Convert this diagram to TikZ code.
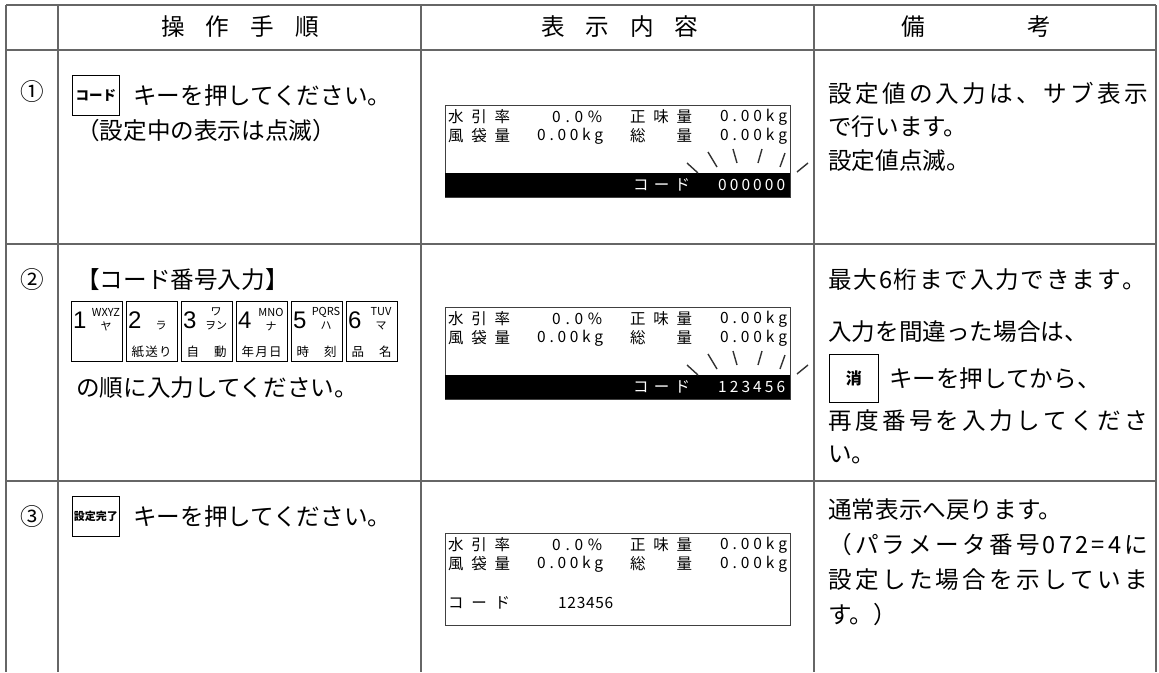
\documentclass[tikz,border=0pt]{standalone}
\usepackage{fontspec}
\setmainfont{Noto Sans CJK JP}
\newfontfamily\keyfont{Liberation Sans}
\usetikzlibrary{positioning}

\newcommand\bodysize{\fontsize{23.6}{30}\selectfont}
\newcommand\lcdsize{\fontsize{15.5}{18}\selectfont}
% spread the characters of #2 over a box of width #1
\def\spreadend{}
\newcommand\spreadbox[2]{\hbox to #1{\edef\spreadtmp{#2}\expandafter\spreadnext\spreadtmp\spreadend}}
\def\spreadnext#1{\ifx#1\spreadend\unskip\else#1\hfil\expandafter\spreadnext\fi}

\tikzset{
  grid/.style={draw=black!60, line width=1.6pt},
  body/.style={anchor=west, inner sep=0pt, font=\bodysize},
  head/.style={inner sep=0pt, font=\bodysize},
  lcdtext/.style={anchor=west, inner sep=0pt, font=\lcdsize},
  lcdline/.style={draw=black!75, line width=1pt},
  ray/.style={draw=black!80, line width=1.4pt},
  keybox/.style={draw, line width=0.8pt, inner sep=0pt}
}

% display panel, #1 = top, #2 = name
\newcommand\lcdpanel[2]{
  \begin{scope}[shift={(0,#1)}]
    \draw[lcdline] (445,0) rectangle (790,92);
    \node[lcdtext] (#2a) at (448,12) {\spreadbox{62pt}{水引率}};
    \node[lcdtext] (#2b) at (552,12) {\spreadbox{50pt}{0.0\%}};
    \node[lcdtext] (#2c) at (630,12) {\spreadbox{62pt}{正味量}};
    \node[lcdtext] (#2d) at (720,12) {\spreadbox{67pt}{0.00kg}};
    \node[lcdtext] (#2e) at (448,31) {\spreadbox{62pt}{風袋量}};
    \node[lcdtext] (#2f) at (537,31) {\spreadbox{66pt}{0.00kg}};
    \node[lcdtext] (#2g) at (630,31) {\spreadbox{62pt}{総量}};
    \node[lcdtext] (#2h) at (720,31) {\spreadbox{67pt}{0.00kg}};
  \end{scope}
}
% blinking sub display, #1 = top, #2 = name, #3 = number
\newcommand\lcdblink[3]{
  \begin{scope}[shift={(0,#1)}]
    \fill (445,68) rectangle (790,92);
    \node[lcdtext, text=white] (#2i) at (633,80) {\spreadbox{57pt}{コード}};
    \node[lcdtext, text=white] (#2j) at (718,80) {\spreadbox{67pt}{#3}};
    \draw[ray] (687,58) -- (698,68) (708,47) -- (717,62) (733,44) -- (737,58)
               (762,44) -- (758,58) (785,48) -- (780,62) (797,67) -- (808,58);
  \end{scope}
}

\begin{document}
\begin{tikzpicture}[x=1pt, y=-1pt]
  \useasboundingbox (0,0) rectangle (1159,672);

  % table
  \foreach \y in {5,50,244,481}
    \draw[grid] (6,\y) -- (1156,\y);
  \foreach \x in {6,58,421,814,1156}
    \draw[grid] (\x,5) -- (\x,672);

  % header
  \node[head] (hstep) at (240,27) {\spreadbox{158pt}{操作手順}};
  \node[head] (hdisp) at (620,27) {\spreadbox{157pt}{表示内容}};
  \node[head] (hnote) at (976,27) {\spreadbox{150pt}{備考}};

  % step 1
  \node[head] (no1) at (32,92) {①};
  \node[keybox, minimum width=47pt, minimum height=40pt, anchor=north west,
        font=\fontsize{13.5}{14}\selectfont\bfseries] (codekey) at (72,75) {コード};
  \node[body] (s1a) at (133,96) {キーを押してください。};
  \node[body] (s1b) at (76,131) {（設定中の表示は点滅）};
  \lcdpanel{105}{lcdA}
  \lcdblink{105}{lcdA}{000000}
  \node[body] (r1a) at (828,93) {\spreadbox{320pt}{設定値の入力は、サブ表示}};
  \node[body] (r1b) at (828,127) {で行います。};
  \node[body] (r1c) at (828,161) {設定値点滅。};

  % step 2
  \node[head] (no2) at (32,280) {②};
  \node[body] (s2a) at (76,280) {【コード番号入力】};
  \foreach \n/\up/\kana/\lab in {1/WXYZ/ヤ/{}, 2/{}/ラ/紙送り, 3/ワ/ヲン/自動,
                                 4/MNO/ナ/年月日, 5/PQRS/ハ/時刻, 6/TUV/マ/品名} {
    \node[keybox, minimum width=51pt, minimum height=60pt, anchor=north west]
      (key\n) at ({71+55*(\n-1)},301) {};
    \node[anchor=west, inner sep=0pt, font=\keyfont\fontsize{24}{24}\selectfont]
      (dig\n) at ([xshift=2pt, yshift=-19pt]key\n.north west) {\n};
    \node[inner sep=0pt, font=\fontsize{11}{11}\selectfont]
      (up\n) at ([xshift=35pt, yshift=-11pt]key\n.north west) {\up};
    \node[inner sep=0pt, font=\fontsize{11}{11}\selectfont]
      (kana\n) at ([xshift=35pt, yshift=-25pt]key\n.north west) {\kana};
    \node[inner sep=0pt, font=\fontsize{12.5}{13}\selectfont]
      (lab\n) at ([xshift=25.5pt, yshift=-51pt]key\n.north west) {\spreadbox{40pt}{\lab}};
  }
  \node[body] (s2b) at (76,388) {の順に入力してください。};
  \lcdpanel{307}{lcdB}
  \lcdblink{307}{lcdB}{123456}
  \node[body] (r2a) at (828,280) {\spreadbox{318pt}{最大6桁まで入力できます。}};
  \node[body] (r2b) at (828,332) {入力を間違った場合は、};
  \node[keybox, minimum width=49pt, minimum height=48pt, anchor=north west,
        font=\fontsize{16}{16}\selectfont\bfseries] (clearkey) at (829,354) {消};
  \node[body, right=10pt of clearkey] (r2c) {キーを押してから、};
  \node[body] (r2d) at (828,421) {\spreadbox{320pt}{再度番号を入力してくださ}};
  \node[body] (r2e) at (828,455) {い。};

  % step 3
  \node[head] (no3) at (32,517) {③};
  \node[keybox, minimum width=47pt, minimum height=40pt, anchor=north west,
        font=\fontsize{11}{12}\selectfont\bfseries] (setkey) at (72,496) {設定完了};
  \node[body] (s3a) at (133,517) {キーを押してください。};
  \lcdpanel{533}{lcdC}
  \node[lcdtext] (lcdCi) at (448,603) {\spreadbox{62pt}{コード}};
  \node[lcdtext] (lcdCj) at (558,603) {\spreadbox{55pt}{123456}};
  \node[body] (r3a) at (828,510) {通常表示へ戻ります。};
  \node[body] (r3b) at (828,545) {\spreadbox{320pt}{（パラメータ番号072=4に}};
  \node[body] (r3c) at (828,580) {\spreadbox{320pt}{設定した場合を示していま}};
  \node[body] (r3d) at (828,615) {す。）};
\end{tikzpicture}
\end{document}
